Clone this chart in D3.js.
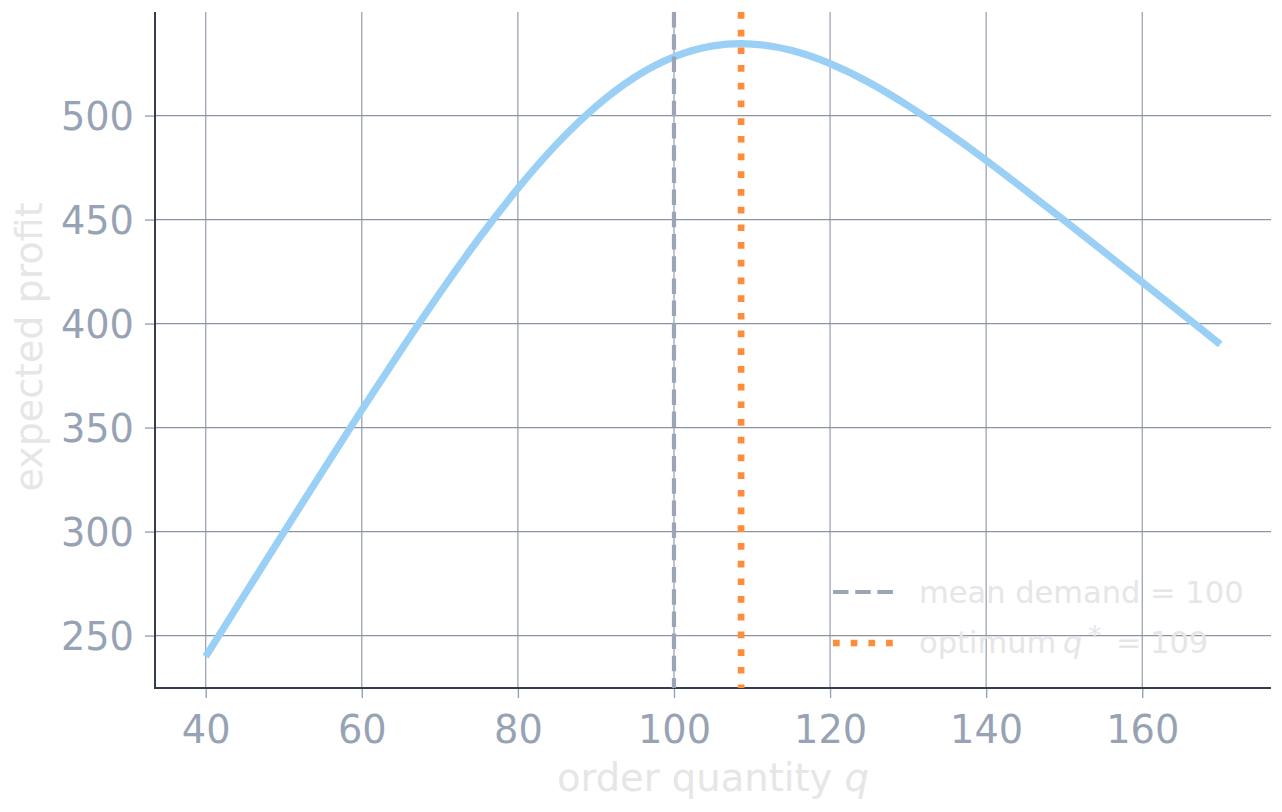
<!DOCTYPE html>
<html><head><meta charset="utf-8">
<script src="https://cdn.jsdelivr.net/npm/d3@7"></script>
<style>body{margin:0;background:#fff;} svg{display:block;font-family:"DejaVu Sans",sans-serif;}</style>
</head><body>
<svg id="c" width="1282" height="812"></svg>
<script>
const orderQty = [40,45,50,55,60,65,70,75,80,85,90,95,100,105,110,115,120,125,130,135,140,145,150,155,160,165,170];
const expProfit = [239.9,269.8,299.6,329.2,358.5,387.1,414.7,440.9,465.0,486.4,504.4,518.5,528.2,533.5,534.4,531.4,525.0,515.9,504.7,492.1,478.5,464.2,449.6,434.8,419.9,405.0,390.0];
const meanDemand = 100;
const optimumQ = 108.6;
const xTicks = [40,60,80,100,120,140,160];
const yTicks = [250,300,350,400,450,500];
const legendLabels = ["mean demand = 100", "optimum ", "q", "*", "=", "109"];

const svg = d3.select("#c");
const L=155,R=1271,T=12,B=688;
const x = d3.scaleLinear().domain([33.5,176.5]).range([L,R]);
const y = d3.scaleLinear().domain([224.8,549.8]).range([B,T]);

// grid
svg.append("g").selectAll("line").data(xTicks).join("line")
  .attr("x1",d=>x(d)).attr("x2",d=>x(d)).attr("y1",T).attr("y2",B)
  .attr("stroke","#8a93a4").attr("stroke-width",1.1);
svg.append("g").selectAll("line").data(yTicks).join("line")
  .attr("y1",d=>y(d)).attr("y2",d=>y(d)).attr("x1",L).attr("x2",R)
  .attr("stroke","#8a93a4").attr("stroke-width",1.1);

// axes
const gx = svg.append("g").attr("transform",`translate(0,${B})`)
  .call(d3.axisBottom(x).tickValues(xTicks).tickSize(10).tickPadding(9).tickSizeOuter(0));
const gy = svg.append("g").attr("transform",`translate(${L},0)`)
  .call(d3.axisLeft(y).tickValues(yTicks).tickSize(10).tickPadding(11).tickSizeOuter(0));
[gx,gy].forEach(g=>{
  g.select(".domain").remove();
  g.selectAll(".tick line").attr("stroke","#97a3b4").attr("stroke-width",1.4);
  g.selectAll(".tick text").attr("fill","#97a3b4").style("font-size","38.3px").style("font-family","DejaVu Sans");
});
gx.selectAll(".tick text").attr("dy","0.93em");
gy.selectAll(".tick text").attr("dy","0.36em");

// spines
svg.append("line").attr("x1",L).attr("x2",L).attr("y1",T).attr("y2",B+1).attr("stroke","#333d4e").attr("stroke-width",2);
svg.append("line").attr("x1",L-1).attr("x2",R).attr("y1",B).attr("y2",B).attr("stroke","#333d4e").attr("stroke-width",2);

// curve
const line = d3.line().x((d,i)=>x(orderQty[i])).y(d=>y(d)).curve(d3.curveNatural);
svg.append("path").datum(expProfit).attr("d",line).attr("fill","none")
  .attr("stroke","#9acff6").attr("stroke-width",7.2);

// vertical lines
svg.append("line").attr("x1",x(meanDemand)).attr("x2",x(meanDemand)).attr("y1",T).attr("y2",B)
  .attr("stroke","#9aa5b8").attr("stroke-width",4.2).attr("stroke-dasharray","15.5,6.7");
svg.append("line").attr("x1",x(optimumQ)).attr("x2",x(optimumQ)).attr("y1",T).attr("y2",B)
  .attr("stroke","#ff8c3a").attr("stroke-width",6.7).attr("stroke-dasharray","6.7,11");

// legend
const lg = svg.append("g");
lg.append("line").attr("x1",833).attr("x2",895).attr("y1",592).attr("y2",592)
  .attr("stroke","#9aa5b8").attr("stroke-width",4.2).attr("stroke-dasharray","15.5,6.7");
lg.append("line").attr("x1",833).attr("x2",895).attr("y1",643).attr("y2",643)
  .attr("stroke","#ff8c3a").attr("stroke-width",6.7).attr("stroke-dasharray","6.7,11");
lg.append("text").attr("x",919).attr("y",603).attr("fill","#e6e6e6").style("font-size","30.5px")
  .text(legendLabels[0]);
const t2 = lg.append("g").attr("fill","#e6e6e6").style("font-size","30.5px");
t2.append("text").attr("x",919).attr("y",653).text(legendLabels[1]);
t2.append("text").attr("x",1063).attr("y",653).attr("font-style","italic").text(legendLabels[2]);
t2.append("text").attr("x",1088).attr("y",645).style("font-size","27px").text(legendLabels[3]);
t2.append("text").attr("x",1116).attr("y",653).text(legendLabels[4]);
t2.append("text").attr("x",1150).attr("y",653).text(legendLabels[5]);

// axis labels
const xl = svg.append("text").attr("x",(L+R)/2+0).attr("y",791).attr("text-anchor","middle")
  .attr("fill","#e6e6e6").style("font-size","38.5px");
xl.append("tspan").text("order quantity ");
xl.append("tspan").attr("font-style","italic").text("q");
svg.append("text").attr("transform","translate(42,347) rotate(-90)").attr("text-anchor","middle")
  .attr("fill","#e6e6e6").style("font-size","38px").text("expected profit");
</script>
</body></html>
